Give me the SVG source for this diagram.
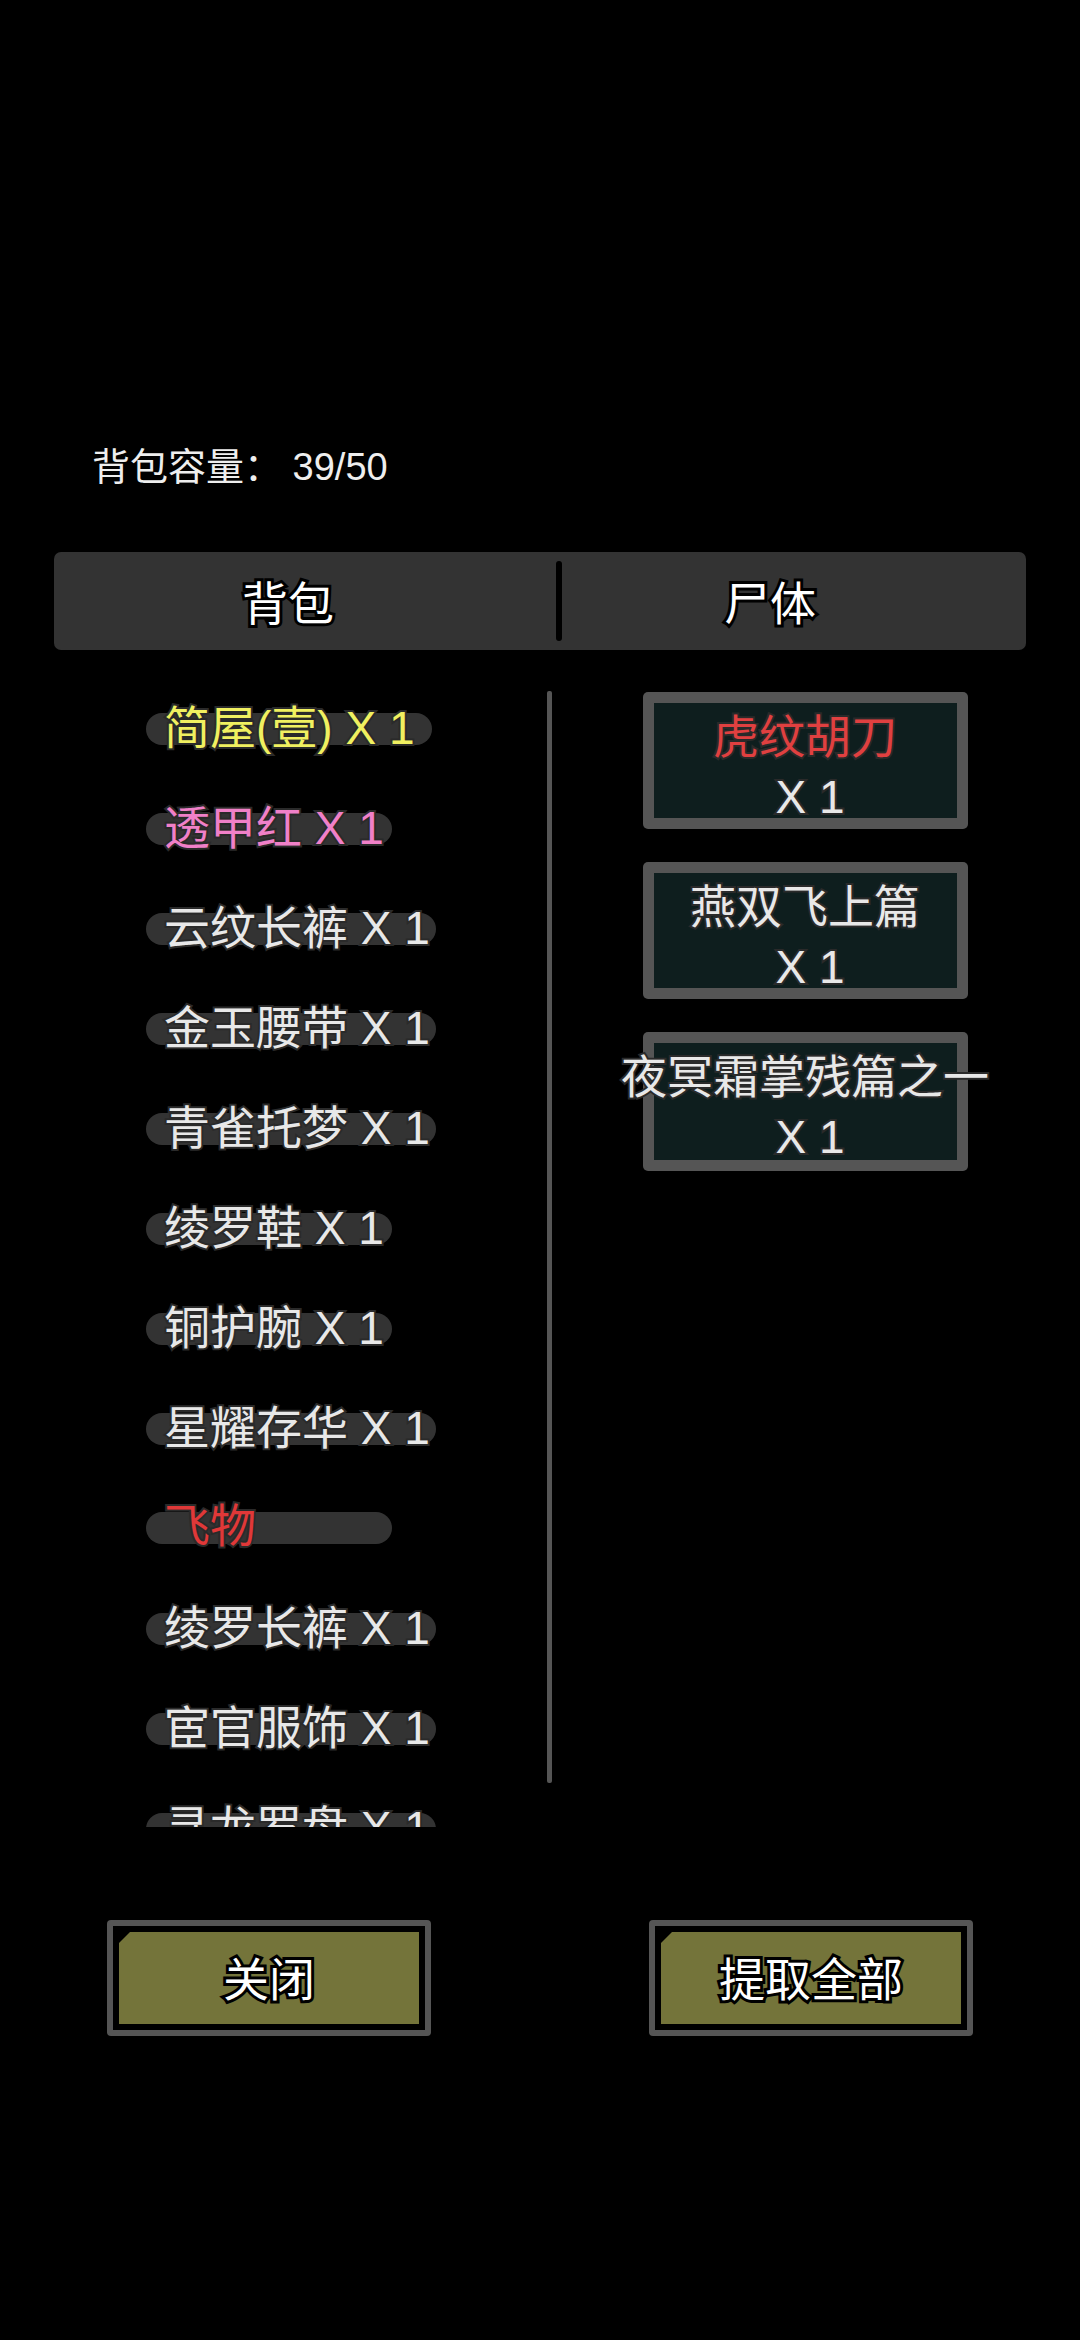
<svg xmlns="http://www.w3.org/2000/svg" width="1080" height="2340" viewBox="0 0 1080 2340">
<style>
text{font-family:"Liberation Sans","Noto Sans CJK SC",sans-serif;}
.t{font-size:46px;stroke:#2a2a2a;stroke-width:4px;paint-order:stroke;dominant-baseline:central}
.pill{fill:#333}
.w{fill:#e8e8e8}
.box{fill:#555}
.boxin{fill:#0e1e1e}
.btn{fill:#555}
.btnin{fill:#74743a}
.bt{font-size:46px;fill:#fff;stroke:#000;stroke-width:6px;paint-order:stroke;text-anchor:middle;dominant-baseline:central}
</style>
<defs><clipPath id="clip"><rect x="140" y="680" width="400" height="1147"/></clipPath></defs>
<rect width="1080" height="2340" fill="#000"/>
<text x="92" y="467" font-size="38" fill="#eee" dominant-baseline="central">背包容量：  39/50</text>
<g id="tabs">
<rect x="54" y="552" width="972" height="98" rx="7" fill="#333"/>
<rect x="556" y="561" width="6" height="80" rx="3" fill="#000"/>
<text class="bt" x="288" y="604" font-size="44">背包</text>
<text class="bt" x="770" y="604" font-size="44">尸体</text>
</g>
<g id="connectors"><rect x="547" y="691" width="5" height="1092" rx="2" fill="#555"/></g>
<g id="bag" clip-path="url(#clip)">
<g id="i1"><rect class="pill" x="146" y="713" width="286" height="32" rx="16"/><text class="t" x="164" y="728" fill="#f0f060">简屋(壹) X 1</text></g>
<g id="i2"><rect class="pill" x="146" y="813" width="246" height="32" rx="16"/><text class="t" x="164" y="828" fill="#f080c8">透甲红 X 1</text></g>
<g id="i3"><rect class="pill" x="146" y="913" width="290" height="32" rx="16"/><text class="t w" x="164" y="928">云纹长裤 X 1</text></g>
<g id="i4"><rect class="pill" x="146" y="1013" width="290" height="32" rx="16"/><text class="t w" x="164" y="1028">金玉腰带 X 1</text></g>
<g id="i5"><rect class="pill" x="146" y="1113" width="290" height="32" rx="16"/><text class="t w" x="164" y="1128">青雀托梦 X 1</text></g>
<g id="i6"><rect class="pill" x="146" y="1213" width="246" height="32" rx="16"/><text class="t w" x="164" y="1228">绫罗鞋 X 1</text></g>
<g id="i7"><rect class="pill" x="146" y="1313" width="246" height="32" rx="16"/><text class="t w" x="164" y="1328">铜护腕 X 1</text></g>
<g id="i8"><rect class="pill" x="146" y="1413" width="290" height="32" rx="16"/><text class="t w" x="164" y="1428">星耀存华 X 1</text></g>
<g id="i9"><rect class="pill" x="146" y="1512" width="246" height="32" rx="16"/><text class="t" x="164" y="1526" fill="#e03838">飞物</text></g>
<g id="i10"><rect class="pill" x="146" y="1613" width="290" height="32" rx="16"/><text class="t w" x="164" y="1628">绫罗长裤 X 1</text></g>
<g id="i11"><rect class="pill" x="146" y="1713" width="290" height="32" rx="16"/><text class="t w" x="164" y="1728">宦官服饰 X 1</text></g>
<g id="i12"><rect class="pill" x="146" y="1813" width="290" height="32" rx="16"/><text class="t w" x="164" y="1828">寻龙罗盘 X 1</text></g>
</g>
<g id="c1"><rect class="box" x="643" y="692" width="325" height="137" rx="5"/><rect class="boxin" x="654" y="703" width="303" height="115"/><text class="t" x="805" y="737" fill="#e04040" text-anchor="middle">虎纹胡刀</text><text class="t w" x="810" y="797" text-anchor="middle">X 1</text></g>
<g id="c2"><rect class="box" x="643" y="862" width="325" height="137" rx="5"/><rect class="boxin" x="654" y="873" width="303" height="115"/><text class="t w" x="805" y="907" text-anchor="middle">燕双飞上篇</text><text class="t w" x="810" y="967" text-anchor="middle">X 1</text></g>
<g id="c3"><rect class="box" x="643" y="1032" width="325" height="139" rx="5"/><rect class="boxin" x="654" y="1043" width="303" height="117"/><text class="t w" x="805" y="1077" text-anchor="middle">夜冥霜掌残篇之一</text><text class="t w" x="810" y="1137" text-anchor="middle">X 1</text></g>
<g id="close"><rect class="btn" x="107" y="1920" width="324" height="116" rx="4"/><rect x="113" y="1926" width="312" height="104" fill="#000"/><polygon class="btnin" points="130,1932 419,1932 419,2024 119,2024 119,1943"/><text class="bt" x="269" y="1980">关闭</text></g>
<g id="takeall"><rect class="btn" x="649" y="1920" width="324" height="116" rx="4"/><rect x="655" y="1926" width="312" height="104" fill="#000"/><polygon class="btnin" points="672,1932 961,1932 961,2024 661,2024 661,1943"/><text class="bt" x="811" y="1980">提取全部</text></g>
</svg>
